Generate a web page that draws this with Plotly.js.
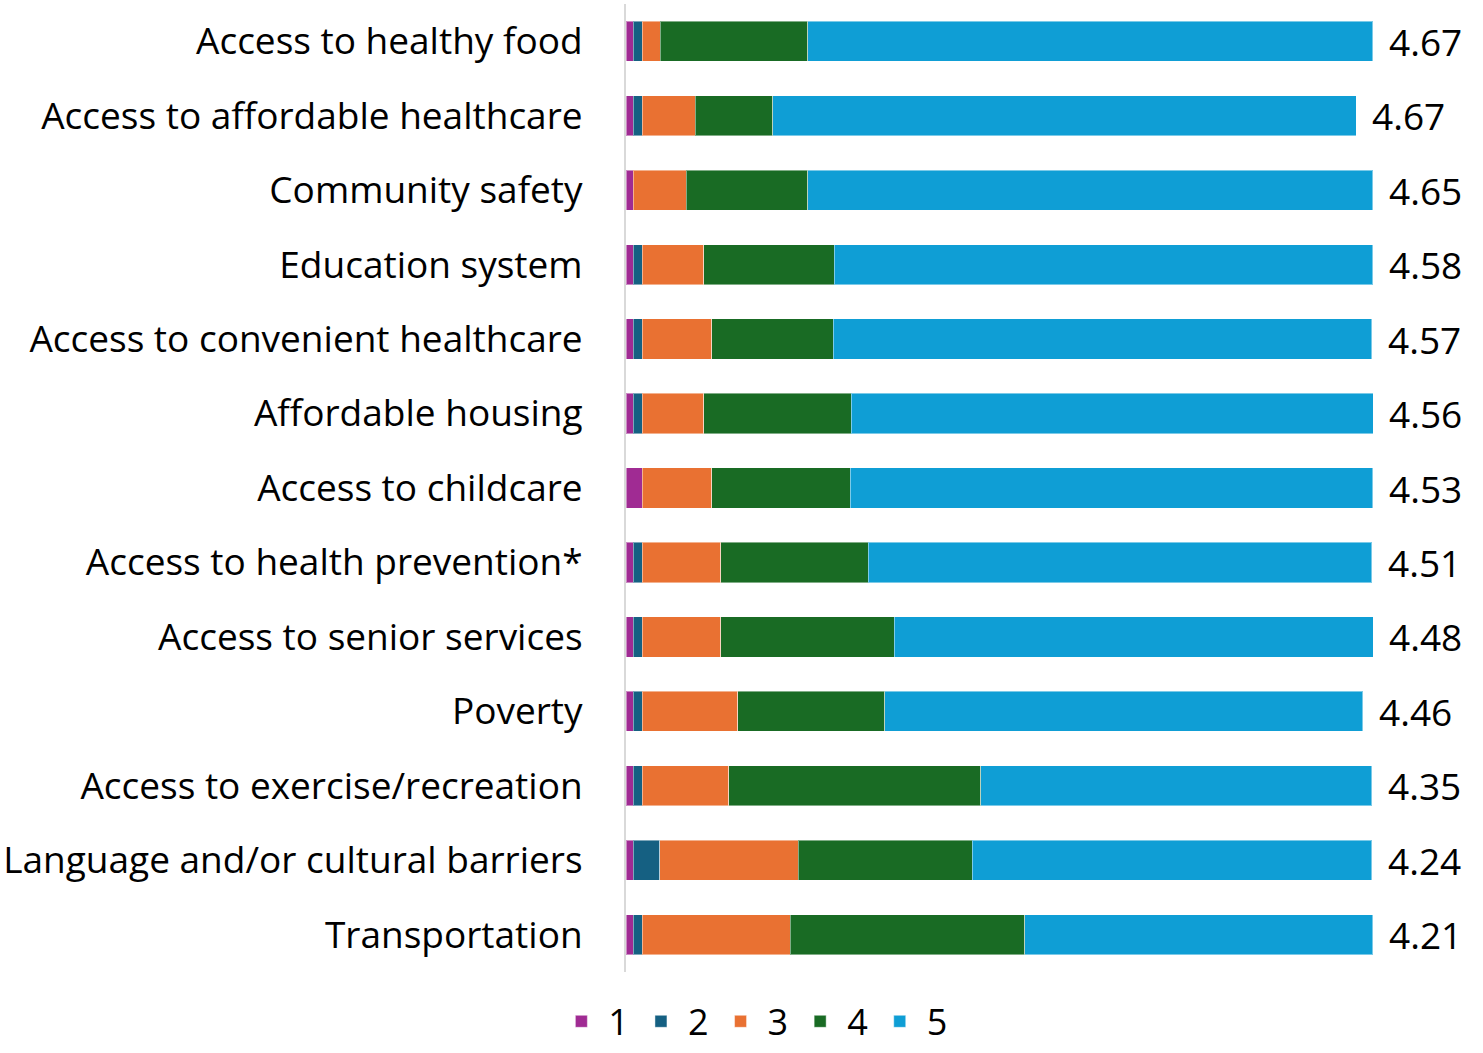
<!DOCTYPE html>
<html>
<head>
<meta charset="utf-8">
<script src="https://cdn.plot.ly/plotly-3.0.1.min.js"></script>
<style>html,body{margin:0;padding:0;background:#fff;}#chart{width:1483px;height:1053px;}</style>
</head>
<body>
<div id="chart"></div>
<script>
const categories = ["Access to healthy food","Access to affordable healthcare","Community safety","Education system","Access to convenient healthcare","Affordable housing","Access to childcare","Access to health prevention*","Access to senior services","Poverty","Access to exercise/recreation","Language and/or cultural barriers","Transportation"];
const seriesNames = ["1","2","3","4","5"];
const rating1 = [1,1,1,1,1,1,2.2,1,1,1,1,1,1];
const rating2 = [1.2,1.2,0,1.2,1.2,1.2,0,1.2,1.2,1.2,1.2,3.5,1.2];
const rating3 = [2.4,7.1,7.1,8.2,9.3,8.2,9.3,10.5,10.5,12.8,11.6,18.6,19.8];
const rating4 = [19.8,10.4,16.3,17.5,16.3,19.8,18.6,19.8,23.3,19.7,33.8,23.3,31.5];
const rating5 = [75.7,78.2,75.7,72.2,72.2,70,70,67.5,64.2,64.1,52.4,53.6,46.6];
const meanLabels = ["4.67","4.67","4.65","4.58","4.57","4.56","4.53","4.51","4.48","4.46","4.35","4.24","4.21"];
const colors = ["#A02B93","#156082","#E97132","#196B24","#0F9ED5"];

const allSeries = [rating1, rating2, rating3, rating4, rating5];
const FONT = "'Open Sans', Lato, sans-serif";
const FS = 37;

const traces = allSeries.map((vals, i) => ({
  type: "bar",
  orientation: "h",
  name: seriesNames[i],
  y: categories,
  x: vals,
  marker: {color: colors[i], line: {color: "rgba(255,255,255,0.45)", width: 1}},
  hoverinfo: "x+name"
}));

const totals = categories.map((c, k) => allSeries.reduce((s, arr) => s + arr[k], 0));
const annotations = categories.map((c, k) => ({
  x: totals[k], y: c, xref: "x", yref: "y",
  text: meanLabels[k], showarrow: false,
  xanchor: "left", yanchor: "middle", xshift: 14,
  font: {family: FONT, size: FS, color: "#000"}
}));

const layout = {
  width: 1483, height: 1053,
  margin: {l: 626, r: 109, t: 4, b: 81, autoexpand: false},
  barmode: "stack",
  bargap: 0.46,
  paper_bgcolor: "#fff", plot_bgcolor: "#fff",
  font: {family: FONT, size: FS, color: "#000"},
  showlegend: true,
  legend: {orientation: "h", xref: "container", x: 0.508, xanchor: "center", yref: "container", y: 0.03, yanchor: "middle",
           itemwidth: 44,
           font: {family: FONT, size: 36, color: "#000"}, traceorder: "normal", itemclick: false},
  xaxis: {range: [0, 100.3], visible: false, fixedrange: true},
  yaxis: {type: "category", autorange: "reversed", automargin: false, showline: true, linecolor: "#d9d9d9", linewidth: 2,
          showgrid: false, ticks: "", ticklabelstandoff: 34, tickfont: {family: FONT, size: FS, color: "#000"}, fixedrange: true},
  annotations: annotations
};

Plotly.newPlot("chart", traces, layout, {displayModeBar: false, staticPlot: true});
</script>
</body>
</html>
